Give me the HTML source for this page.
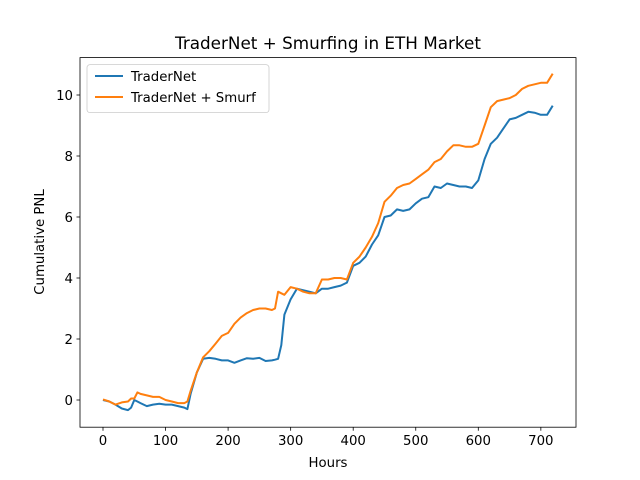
<!DOCTYPE html>
<html><head><meta charset="utf-8"><style>
body{margin:0;background:#fff}
svg{display:block;font-family:"DejaVu Sans","Liberation Sans",sans-serif}
</style></head><body>
<svg id="chart" width="640" height="480">
<rect width="640" height="480" fill="#fff"/>
<text x="328" y="49" font-size="16.8" text-anchor="middle">TraderNet + Smurfing in ETH Market</text>
<g id="plot"></g>
<rect x="80" y="57.6" width="496" height="369.6" fill="none" stroke="#000" stroke-width="0.8"/>
<g id="axes"></g>
<text x="328" y="467" font-size="13.3" text-anchor="middle">Hours</text>
<text transform="translate(44,242) rotate(-90)" font-size="13.3" text-anchor="middle">Cumulative PNL</text>
<g>
<rect x="87" y="64.6" width="182" height="48" rx="3" fill="#fff" fill-opacity="0.8" stroke="#ccc" stroke-width="0.8"/>
<line x1="95" y1="76" x2="123" y2="76" stroke="#1f77b4" stroke-width="2"/>
<text x="131" y="81" font-size="13.3">TraderNet</text>
<line x1="95" y1="97" x2="123" y2="97" stroke="#ff7f0e" stroke-width="2"/>
<text x="131" y="102" font-size="13.3">TraderNet + Smurf</text>
</g>
</svg>
<script>
const hours=[0,10,20,30,40,45,50,55,60,70,80,90,100,110,120,130,135,140,150,160,170,180,190,200,210,220,230,240,250,260,270,275,280,285,290,300,310,320,330,340,350,360,370,380,390,400,410,420,430,440,450,460,470,480,490,500,510,520,530,540,550,560,570,580,590,600,610,620,630,640,650,660,670,680,690,700,710,719];
const traderNet=[0,-0.05,-0.15,-0.28,-0.33,-0.25,0.0,-0.05,-0.1,-0.2,-0.15,-0.12,-0.15,-0.15,-0.2,-0.25,-0.3,0.2,0.9,1.35,1.38,1.35,1.3,1.3,1.22,1.3,1.37,1.35,1.38,1.28,1.3,1.32,1.35,1.8,2.8,3.3,3.65,3.6,3.55,3.5,3.65,3.65,3.7,3.75,3.85,4.4,4.5,4.7,5.1,5.4,6.0,6.05,6.25,6.2,6.25,6.45,6.6,6.65,7.0,6.95,7.1,7.05,7.0,7.0,6.95,7.2,7.9,8.4,8.6,8.9,9.2,9.25,9.35,9.45,9.42,9.35,9.35,9.65];
const smurf=[0.02,-0.05,-0.15,-0.08,-0.05,0.05,0.05,0.25,0.2,0.15,0.1,0.1,0.0,-0.05,-0.1,-0.1,-0.05,0.3,0.9,1.4,1.6,1.85,2.1,2.2,2.5,2.7,2.85,2.95,3.0,3.0,2.95,3.0,3.55,3.5,3.45,3.7,3.65,3.55,3.5,3.5,3.95,3.95,4.0,4.0,3.95,4.5,4.7,5.0,5.35,5.8,6.5,6.7,6.95,7.05,7.1,7.25,7.4,7.55,7.8,7.9,8.15,8.35,8.35,8.3,8.3,8.4,9.0,9.6,9.8,9.85,9.9,10.0,10.2,10.3,10.35,10.4,10.4,10.7];
const xTicks=[0,100,200,300,400,500,600,700];
const yTicks=[0,2,4,6,8,10];
const NS='http://www.w3.org/2000/svg';
const xs=h=>103+0.6255*h;
const ys=v=>400-30.5*v;
const plot=document.getElementById('plot'),axes=document.getElementById('axes');
function mk(t,a,p){const e=document.createElementNS(NS,t);for(const k in a)e.setAttribute(k,a[k]);p.appendChild(e);return e;}
xTicks.forEach(t=>{
 const l=mk('line',{x1:xs(t),x2:xs(t),y1:427.2,y2:430.7,stroke:'#000','stroke-width':0.8},axes);
 
 
 const tx=mk('text',{x:xs(t),y:445,'font-size':13.3,'text-anchor':'middle'},axes);tx.textContent=t;
 
 
});
yTicks.forEach(t=>{
 const l=mk('line',{x1:76.5,x2:80,y1:ys(t),y2:ys(t),stroke:'#000','stroke-width':0.8},axes);
 
 
 const tx=mk('text',{x:73,y:ys(t)+5,'font-size':13.3,'text-anchor':'end'},axes);tx.textContent=t;
 
 
});
function line(vals,color,name){
 const d=vals.map((v,i)=>(i?'L':'M')+xs(hours[i]).toFixed(1)+','+ys(v).toFixed(1)).join(' ');
 const p=mk('path',{d:d,fill:'none',stroke:color,'stroke-width':2,'stroke-linejoin':'round'},plot);
 
 
}
line(traderNet,'#1f77b4','tradernet-line');
line(smurf,'#ff7f0e','tradernet-smurf-line');
</script>
</body></html>
